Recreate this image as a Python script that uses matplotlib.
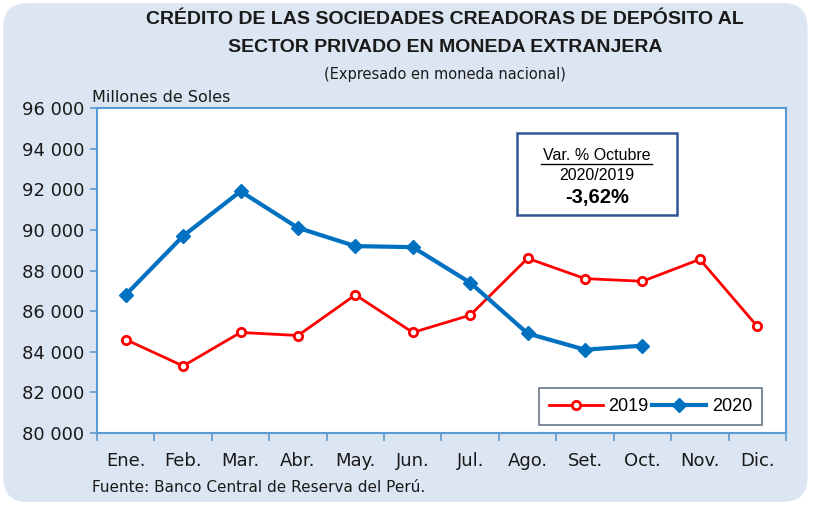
import matplotlib
matplotlib.use('Agg')
import matplotlib.pyplot as plt
from matplotlib.patches import FancyBboxPatch
from matplotlib.ticker import FuncFormatter, FixedLocator

meses = ['Ene.', 'Feb.', 'Mar.', 'Abr.', 'May.', 'Jun.', 'Jul.', 'Ago.', 'Set.', 'Oct.', 'Nov.', 'Dic.']
serie_2019 = [84600, 83300, 84950, 84800, 86800, 84950, 85800, 88600, 87600, 87470, 88550, 85250]
serie_2020 = [86800, 89700, 91900, 90100, 89200, 89150, 87400, 84900, 84100, 84300]

BG = '#DCE6F2'
AXC = '#5B9BD5'
TXT = '#1a1a1a'
ARIAL = ['Liberation Sans', 'DejaVu Sans']

plt.rcParams['font.family'] = ['DejaVu Sans']

fig = plt.figure(figsize=(8.14, 5.05), dpi=100)
fig.patch.set_facecolor('white')
bg = FancyBboxPatch((0.004, 0.006), 0.988, 0.988, boxstyle='round,pad=0,rounding_size=0.03',
                    transform=fig.transFigure, facecolor=BG, edgecolor='none',
                    mutation_aspect=814/505, zorder=-10)
fig.patches.append(bg)

ax = fig.add_axes([97/814, 1-433/505, (786-97)/814, (433-108)/505])
ax.set_facecolor('white')

x19 = list(range(len(serie_2019)))
x20 = list(range(len(serie_2020)))
ax.plot(x19, serie_2019, color='#FF0000', lw=2, marker='o', ms=6,
        mfc='white', mec='#FF0000', mew=2, label='2019')
ax.plot(x20, serie_2020, color='#0070C0', lw=3, marker='D', ms=7,
        mfc='#0070C0', mec='#0070C0', label='2020')

ax.set_xlim(-0.5, 11.5)
ax.set_ylim(80000, 96000)
ax.set_yticks(range(80000, 96001, 2000))
ax.yaxis.set_major_formatter(FuncFormatter(lambda v, p: f'{int(v):,}'.replace(',', ' ')))
ax.xaxis.set_major_locator(FixedLocator([i - 0.5 for i in range(13)]))
ax.set_xticklabels([])
ax.set_xticks(range(12), minor=True)
ax.set_xticklabels(meses, minor=True)
ax.tick_params(axis='x', which='major', direction='out', length=6, color=AXC, width=1.2)
ax.tick_params(axis='x', which='minor', length=0, pad=14, labelsize=13, labelcolor=TXT)
ax.tick_params(axis='y', direction='out', length=5, color=AXC, width=1.2, labelsize=13,
               labelcolor=TXT, pad=4)
for s in ax.spines.values():
    s.set_color(AXC)
    s.set_linewidth(1.5)

leg = ax.legend(loc='lower right', bbox_to_anchor=(0.965, 0.025), ncol=2, frameon=True,
                fancybox=False, edgecolor='#44546A', handlelength=3.0,
                columnspacing=0.2, handletextpad=0.3, borderpad=0.55, borderaxespad=0,
                prop={'family': ARIAL, 'size': 13})
leg.get_frame().set_linewidth(1.2)

# cuadro de variacion
box = FancyBboxPatch((517/814, 1-215/505), 160/814, 82/505, boxstyle='square,pad=0',
                     transform=fig.transFigure, facecolor='white', edgecolor='#2F5597', lw=1.8)
fig.patches.append(box)
fig.text(597/814, 1-155/505, 'Var. % Octubre', ha='center', va='center', fontsize=11.5,
         family=ARIAL)
fig.add_artist(plt.Line2D([541/814, 652/814], [1-164/505, 1-164/505], color='black', lw=1))
fig.text(597/814, 1-176/505, '2020/2019', ha='center', va='center', fontsize=11.5,
         family=ARIAL)
fig.text(597/814, 1-198/505, '-3,62%', ha='center', va='center', fontsize=14.5, fontweight='bold',
         family=ARIAL)

fig.text(445/814, 1-20/505, 'CRÉDITO DE LAS SOCIEDADES CREADORAS DE DEPÓSITO AL',
         ha='center', va='center', fontsize=14, fontweight='bold', color=TXT, family=ARIAL)
fig.text(445/814, 1-48/505, 'SECTOR PRIVADO EN MONEDA EXTRANJERA',
         ha='center', va='center', fontsize=14, fontweight='bold', color=TXT, family=ARIAL)
fig.text(445/814, 1-75/505, '(Expresado en moneda nacional)', ha='center', va='center',
         fontsize=10.5, color=TXT)
fig.text(92/814, 1-97/505, 'Millones de Soles', ha='left', va='center', fontsize=11.5,
         color=TXT)
fig.text(92/814, 1-488/505, 'Fuente: Banco Central de Reserva del Perú.', ha='left', va='center',
         fontsize=11, color=TXT)

fig.savefig('out.png', dpi=100, facecolor=fig.get_facecolor())
